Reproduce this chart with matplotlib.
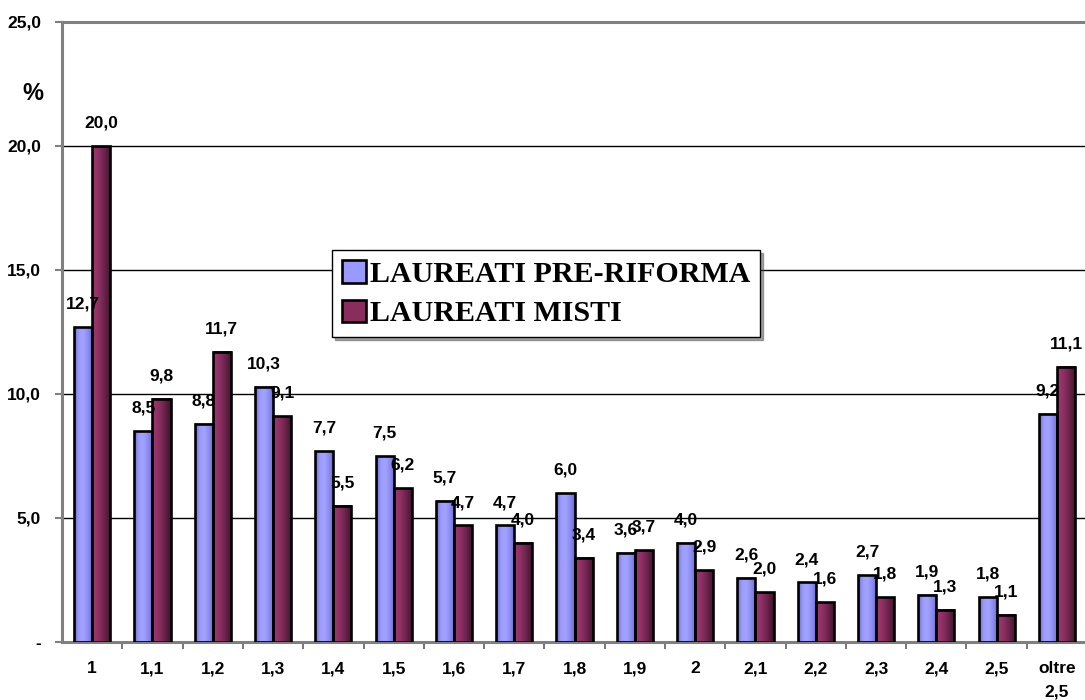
import numpy as np
import matplotlib
matplotlib.use("Agg")
import matplotlib.pyplot as plt
from matplotlib.patches import Rectangle
from matplotlib.colors import LinearSegmentedColormap

# Categories and the two series (percentages)
categories = ["1", "1,1", "1,2", "1,3", "1,4", "1,5", "1,6", "1,7", "1,8",
              "1,9", "2", "2,1", "2,2", "2,3", "2,4", "2,5", "oltre\n2,5"]
pre_riforma = [12.7, 8.5, 8.8, 10.3, 7.7, 7.5, 5.7, 4.7, 6.0,
               3.6, 4.0, 2.6, 2.4, 2.7, 1.9, 1.8, 9.2]
misti = [20.0, 9.8, 11.7, 9.1, 5.5, 6.2, 4.7, 4.0, 3.4,
         3.7, 2.9, 2.0, 1.6, 1.8, 1.3, 1.1, 11.1]
series_names = ["LAUREATI PRE-RIFORMA", "LAUREATI MISTI"]
y_ticks = [0, 5, 10, 15, 20, 25]
y_tick_labels = ["-", "5,0", "10,0", "15,0", "20,0", "25,0"]

SANS = "Liberation Sans"
SERIF = "Liberation Serif"
FS = 12.5

cmap_blue = LinearSegmentedColormap.from_list(
    "blue_bar", ["#6a6ac0", "#9c9cff", "#a2a2ff", "#8c8cf0", "#6a6ad0"])
cmap_red = LinearSegmentedColormap.from_list(
    "red_bar", ["#9a3a6a", "#94326a", "#7e2a58", "#5e1f42", "#42132c"])
flat_colors = ["#9999ff", "#8a2d5c"]

fig = plt.figure(figsize=(10.85, 7.0), dpi=100)
ax = fig.add_axes([62 / 1085, 1 - 642 / 700, (1085 - 62) / 1085, 620 / 700])

cat_px = 60.3
n = len(categories)
x = np.arange(n)
width = 0.3
grad = np.linspace(0, 1, 64).reshape(1, -1)


def gradient_bar(xc, h, cmap):
    x0, x1 = xc - width / 2, xc + width / 2
    ax.imshow(grad, extent=[x0, x1, 0, h], aspect="auto", cmap=cmap,
              interpolation="bilinear", origin="lower", zorder=2)
    ax.add_patch(Rectangle((x0, 0), width, h, facecolor="none",
                           edgecolor="black", linewidth=1.9, zorder=3))


for i in range(n):
    gradient_bar(x[i] - width / 2, pre_riforma[i], cmap_blue)
    gradient_bar(x[i] + width / 2, misti[i], cmap_red)

# value labels above each bar
for vals, off in ((pre_riforma, -width / 2), (misti, width / 2)):
    for i, v in enumerate(vals):
        ax.annotate(f"{v:.1f}".replace(".", ","), (x[i] + off, v),
                    xytext=(0, 16.5), textcoords="offset points",
                    ha="center", va="center", fontsize=FS,
                    fontweight="bold", family=SANS, zorder=5)

ax.set_xlim(-0.5, -0.5 + (1085 - 62) / cat_px)
ax.set_ylim(0, 25)

# gridlines
for yv in [5, 10, 15, 20]:
    ax.axhline(yv, color="black", linewidth=1.0, zorder=1)

ax.set_yticks(y_ticks)
ax.set_yticklabels(y_tick_labels, fontsize=FS, fontweight="bold", family=SANS)
ax.tick_params(axis="y", direction="out", length=5, width=1.5,
               color="#808080", pad=10)

ax.set_xticks(x)
ax.set_xticklabels(categories, fontsize=FS, fontweight="bold", family=SANS,
                   linespacing=1.65, va="top")
ax.tick_params(axis="x", which="major", length=0, pad=14)
ax.set_xticks(np.arange(0.5, n - 0.5, 1.0), minor=True)
ax.tick_params(axis="x", which="minor", direction="out", length=5,
               width=1.2, color="#606060")

for side in ("left", "bottom", "top"):
    ax.spines[side].set_color("#808080")
    ax.spines[side].set_linewidth(2.2)
ax.spines["right"].set_visible(False)
ax.spines["top"].set_zorder(4)

fig.text(33 / 1085, 1 - 93 / 700, "%", ha="center", va="center",
         fontsize=17, fontweight="bold", family=SANS)

handles = [Rectangle((0, 0), 1, 1, facecolor=c, edgecolor="black",
                     linewidth=1.9) for c in flat_colors]
leg = fig.legend(handles, series_names, loc="upper left",
                 bbox_to_anchor=(332 / 1085, 1 - 250 / 700),
                 borderaxespad=0, frameon=True, fancybox=False, shadow=True,
                 prop={"family": SERIF, "weight": "bold", "size": 21.6},
                 handlelength=0.8, handleheight=0.8, handletextpad=0.15,
                 labelspacing=0.4, borderpad=0.32)
leg.get_frame().set_edgecolor("black")
leg.get_frame().set_linewidth(1.0)

fig.savefig("out.png", dpi=100)
